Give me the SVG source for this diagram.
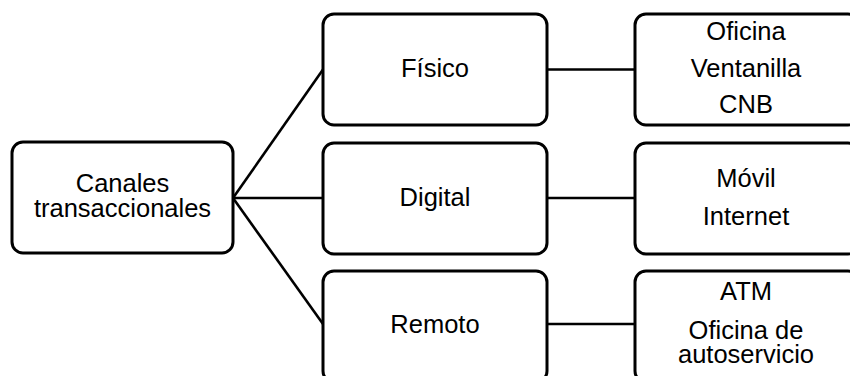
<svg xmlns="http://www.w3.org/2000/svg" width="850" height="376" viewBox="0 0 850 376">
  <style>
    .box { fill: #ffffff; stroke: #000000; stroke-width: 3; }
    .link { fill: none; stroke: #000000; stroke-width: 2.6; }
    text { font-family: "Liberation Sans", Arial, sans-serif; font-size: 25.5px; fill: #000000; text-anchor: middle; }
  </style>
  <rect width="850" height="376" fill="#ffffff"/>

  <g id="connectors">
    <line class="link" x1="233" y1="198" x2="323" y2="69.5"/>
    <line class="link" x1="233" y1="198" x2="323" y2="198"/>
    <line class="link" x1="233" y1="198" x2="323" y2="324"/>
    <line class="link" x1="547" y1="69.5" x2="635" y2="69.5"/>
    <line class="link" x1="547" y1="198" x2="635" y2="198"/>
    <line class="link" x1="547" y1="324" x2="635" y2="324"/>
  </g>

  <g id="root">
    <rect class="box" x="12" y="142" width="221" height="111" rx="11"/>
    <text x="122.5" y="192">Canales</text>
    <text x="122.5" y="217">transaccionales</text>
  </g>

  <g id="fisico">
    <rect class="box" x="323" y="14" width="224" height="111" rx="11"/>
    <text x="435" y="77">Físico</text>
  </g>

  <g id="digital">
    <rect class="box" x="323" y="143" width="224" height="111" rx="11"/>
    <text x="435" y="206">Digital</text>
  </g>

  <g id="remoto">
    <rect class="box" x="323" y="271" width="224" height="111" rx="11"/>
    <text x="435" y="333">Remoto</text>
  </g>

  <g id="fisico-list">
    <rect class="box" x="635" y="14" width="224" height="111" rx="11"/>
    <text x="746" y="40">Oficina</text>
    <text x="746" y="77">Ventanilla</text>
    <text x="746" y="113">CNB</text>
  </g>

  <g id="digital-list">
    <rect class="box" x="635" y="143" width="224" height="111" rx="11"/>
    <text x="746" y="187">Móvil</text>
    <text x="746" y="225">Internet</text>
  </g>

  <g id="remoto-list">
    <rect class="box" x="635" y="271" width="224" height="111" rx="11"/>
    <text x="746" y="300">ATM</text>
    <text x="746" y="339">Oficina de</text>
    <text x="746" y="363">autoservicio</text>
  </g>
</svg>
